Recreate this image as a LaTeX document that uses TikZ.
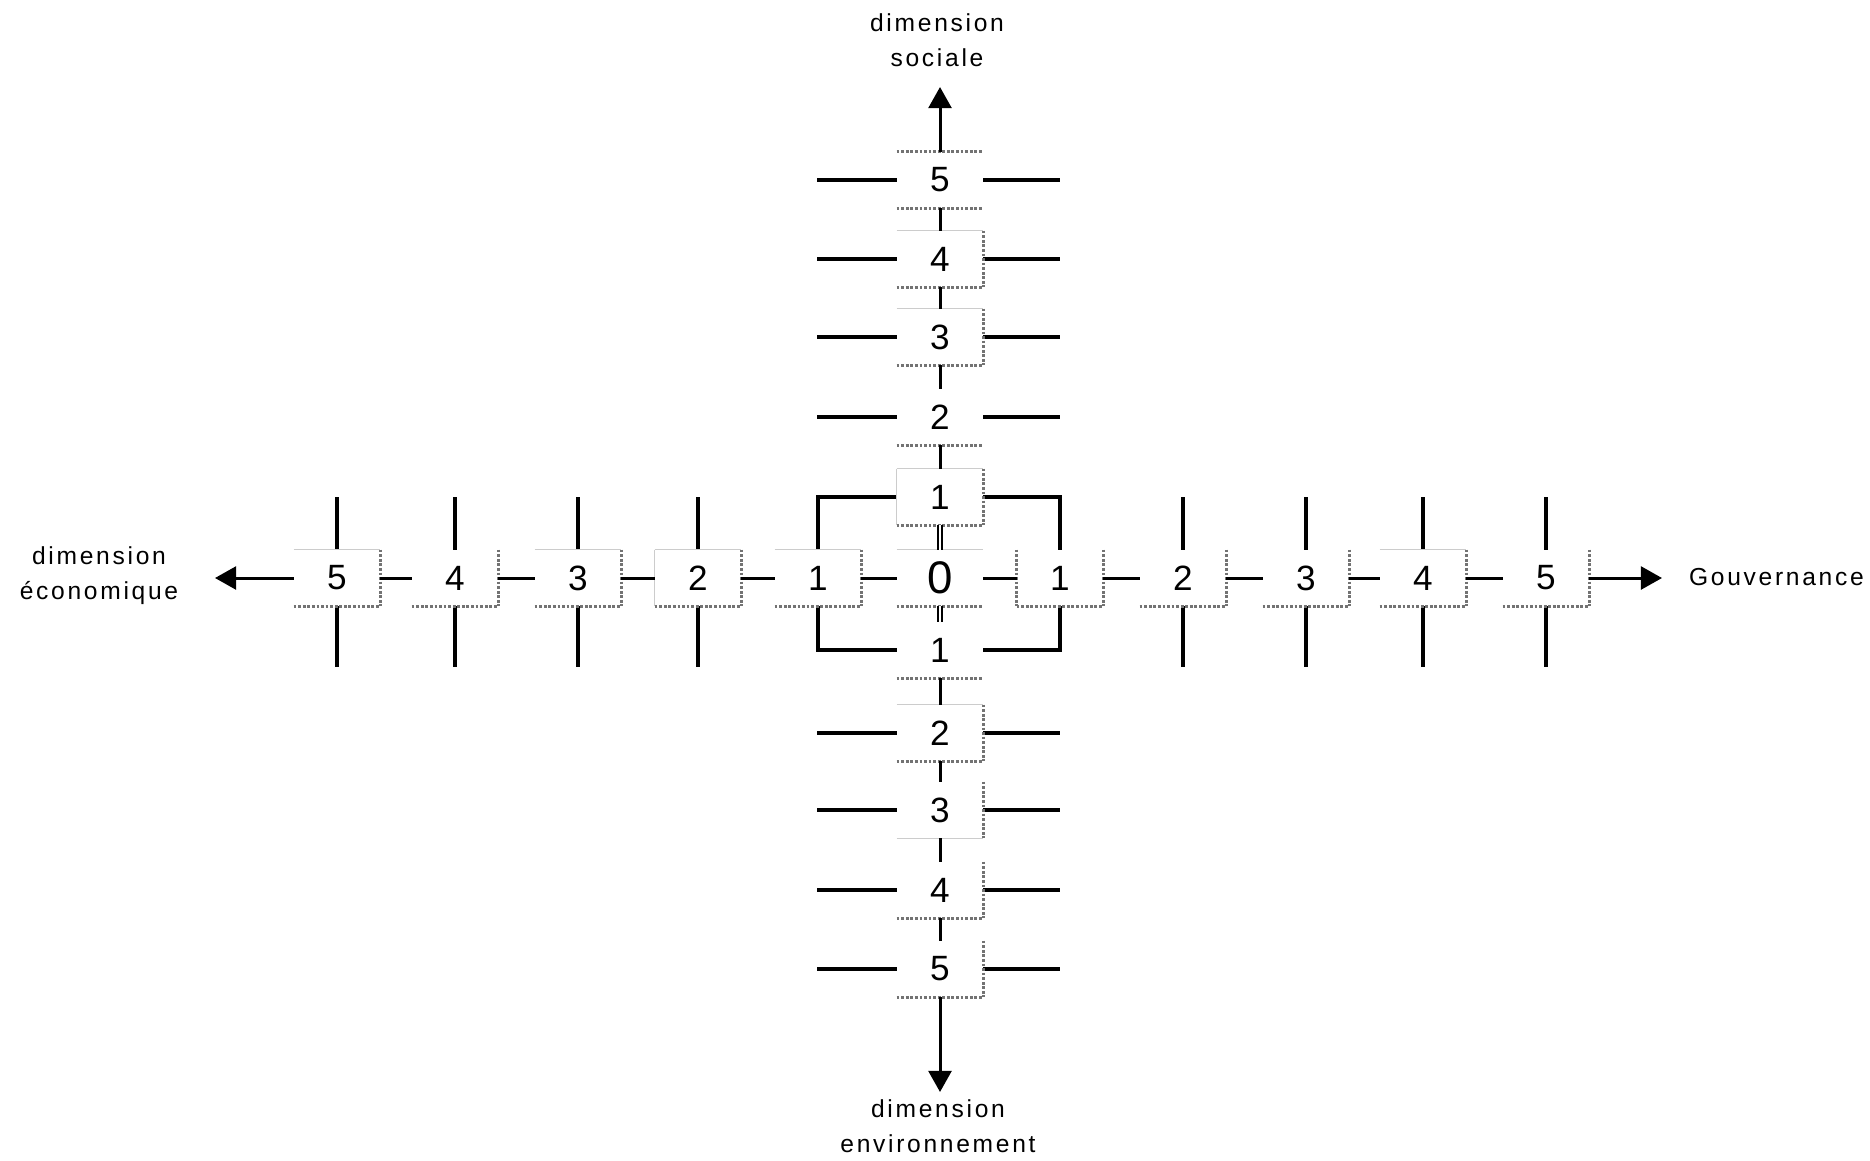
\documentclass[tikz,border=0pt]{standalone}
\usepackage{fontspec}
\setmainfont{Liberation Sans}
\newfontfamily\spaced[LetterSpace=11]{Liberation Sans}
\usetikzlibrary{arrows.meta, backgrounds}

\begin{document}
\begin{tikzpicture}[x=0.02cm, y=-0.02cm]
    \tikzstyle{num}=[rectangle, fill=white, minimum width=1.72cm, minimum height=1.12cm, inner sep=0pt, font=\fontsize{20}{20}\selectfont]
    \tikzstyle{tick}=[line width=2pt]
    \tikzstyle{conn}=[line width=1.7pt]
    \tikzstyle{edge}=[black!55, densely dotted, line width=1.6pt]
    \tikzstyle{faint}=[gray!40, line width=0.9pt]
    \tikzstyle{axis}=[conn, -{Triangle[length=12pt,width=13pt]}]
    \tikzstyle{annot}=[align=center, font=\spaced\fontsize{14}{20}\selectfont]

    \useasboundingbox (0,0) rectangle (1870,1160);

    % horizontal scale
    \node[num] (e5) at (337,578) {5};
    \node[num] (e4) at (455,578) {4};
    \node[num] (e3) at (578,578) {3};
    \node[num] (e2) at (698,578) {2};
    \node[num] (e1) at (818,578) {1};
    \node[num, font=\fontsize{26}{26}\selectfont] (o) at (940,578) {0};
    \node[num] (g1) at (1060,578) {1};
    \node[num] (g2) at (1183,578) {2};
    \node[num] (g3) at (1306,578) {3};
    \node[num] (g4) at (1423,578) {4};
    \node[num] (g5) at (1546,578) {5};

    % vertical scale
    \node[num] (s5) at (940,180) {5};
    \node[num] (s4) at (940,259) {4};
    \node[num] (s3) at (940,337) {3};
    \node[num] (s2) at (940,417) {2};
    \node[num] (s1) at (940,497) {1};
    \node[num] (n1) at (940,650) {1};
    \node[num] (n2) at (940,733) {2};
    \node[num] (n3) at (940,810) {3};
    \node[num] (n4) at (940,890) {4};
    \node[num] (n5) at (940,969) {5};

    % labels
    \node[annot] (soc) at (937,40) {dimension\\sociale};
    \node[annot] (env) at (938,1126) {dimension\\environnement};
    \node[annot] (eco) at (99,576) {dimension\\économique};
    \node[annot, anchor=east] (gov) at (1870,577) {Gouvernance};
    \coordinate (soc-tip) at (940,87);
    \coordinate (env-tip) at (940,1092);
    \coordinate (eco-tip) at (215,578);
    \coordinate (gov-tip) at (1662,578);

    \begin{pgfonlayer}{background}
        \foreach \n in {e5,e4,e3,e2,g2,g3,g4,g5}
            \draw[tick] (\n.center) ++(0,-81) -- ++(0,170);
        \foreach \n in {s5,s4,s3,s2,n2,n3,n4,n5}
            \draw[tick] (\n.center) ++(-123,0) -- ++(243,0);
        \draw[tick] (e1.center |- s1.center) rectangle (g1.center |- n1.center);
    \end{pgfonlayer}

    % box sides
    \foreach \n in {e5,e3,e2,e1,o,g4,s4,s3,s1,n2}
        \draw[faint] (\n.north west) -- (\n.north east);
    \foreach \n in {e2,s1}
        \draw[faint] (\n.north west) -- (\n.south west);
    \draw[faint] (n3.south west) -- (n3.south east);
    \draw[edge] (s5.north west) -- (s5.north east);
    \draw[edge] (g1.north west) -- (g1.south west);
    \foreach \n in {e5,e4,e3,e2,e1,g1,g2,g3,g4,g5,s4,s3,s1,n2,n3,n4,n5}
        \draw[edge] (\n.north east) -- (\n.south east);
    \foreach \n in {e5,e4,e3,e2,e1,o,g1,g2,g3,g4,g5,s5,s4,s3,s2,s1,n1,n2,n4,n5}
        \draw[edge] (\n.south west) -- (\n.south east);

    % axes
    \draw[conn] (e5) -- (e4) -- (e3) -- (e2) -- (e1) -- (o) -- (g1) -- (g2) -- (g3) -- (g4) -- (g5);
    \draw[conn] (s5) -- (s4) -- (s3) -- (s2) -- (s1);
    \draw[conn] (n1) -- (n2) -- (n3) -- (n4) -- (n5);
    \draw[double, double distance=1.5pt, line width=1.2pt] (s1) -- (o);
    \draw[double, double distance=1.5pt, line width=1.2pt] (o) -- (n1);
    \draw[axis] (s5) -- (soc-tip);
    \draw[axis] (n5) -- (env-tip);
    \draw[axis] (e5) -- (eco-tip);
    \draw[axis] (g5) -- (gov-tip);
\end{tikzpicture}
\end{document}
